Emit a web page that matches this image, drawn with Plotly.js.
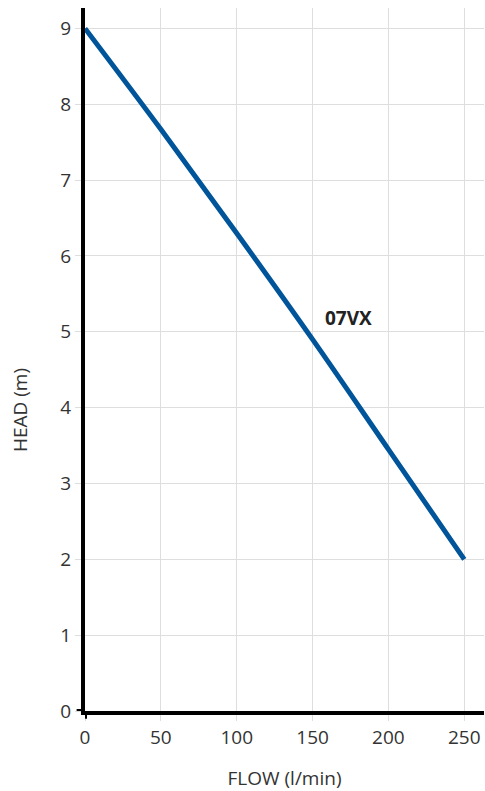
<!DOCTYPE html>
<html>
<head>
<meta charset="utf-8">
<script src="https://cdn.plot.ly/plotly-3.0.1.min.js"></script>
<style>html,body{margin:0;padding:0;background:#fff;}#chart{width:485px;height:791px;}</style>
</head>
<body>
<div id="chart"></div>
<script>
const flow = [0, 50, 100, 150, 200, 250];
const head = [9, 7.67, 6.3, 4.9, 3.45, 2.0];
const seriesName = "07VX";
const xTicks = [0, 50, 100, 150, 200, 250];
const yTicks = [0, 1, 2, 3, 4, 5, 6, 7, 8, 9];
const xTitle = "FLOW (l/min)";
const yTitle = "HEAD (m)";

const fontFam = "'Open Sans', 'DejaVu Sans', sans-serif";
const data = [{
  x: flow, y: head, type: 'scatter', mode: 'lines', name: seriesName,
  line: {color: '#00559a', width: 5, shape: 'spline', smoothing: 1},
  hoverinfo: 'skip'
}];
const layout = {
  width: 485, height: 791,
  margin: {l: 85, r: 1, t: 8, b: 80},
  paper_bgcolor: '#fff', plot_bgcolor: '#fff',
  showlegend: false,
  font: {family: fontFam, color: '#333', size: 19},
  xaxis: {
    range: [0, 263], tickvals: xTicks, ticktext: xTicks.map(String),
    showgrid: true, gridcolor: '#dedede', gridwidth: 1,
    zeroline: false, showline: true, linecolor: '#000', linewidth: 4,
    ticks: 'outside', ticklen: 6, tickcolor: '#dedede', tickwidth: 1,
    tickfont: {size: 19, color: '#333'},
    title: {text: xTitle, font: {size: 19, color: '#333'}, standoff: 28}
  },
  yaxis: {
    range: [0, 9.27], tickvals: yTicks, ticktext: yTicks.map(String),
    showgrid: true, gridcolor: '#dedede', gridwidth: 1,
    zeroline: false, showline: true, linecolor: '#000', linewidth: 4,
    ticks: 'outside', ticklen: 6, tickcolor: '#dedede', tickwidth: 1,
    tickfont: {size: 19, color: '#333'}
  },
  shapes: [
    {type: 'line', xref: 'paper', yref: 'y', x0: -0.021, x1: 0, y0: 0, y1: 0, line: {color: '#000', width: 4}},
    {type: 'line', xref: 'x', yref: 'paper', x0: 0, x1: 0, y0: -0.011, y1: 0, line: {color: '#000', width: 4}}
  ],
  annotations: [
    {text: '<b>' + seriesName + '</b>', x: 173.5, y: 5.18, xref: 'x', yref: 'y', showarrow: false,
     font: {size: 19, color: '#222', family: fontFam}},
    {text: yTitle, xref: 'paper', yref: 'paper', x: -0.163, y: 0.428, textangle: -90, showarrow: false,
     xanchor: 'center', yanchor: 'middle', font: {size: 19, color: '#333', family: fontFam}}
  ]
};
Plotly.newPlot('chart', data, layout, {displayModeBar: false, staticPlot: true});
</script>
</body>
</html>
